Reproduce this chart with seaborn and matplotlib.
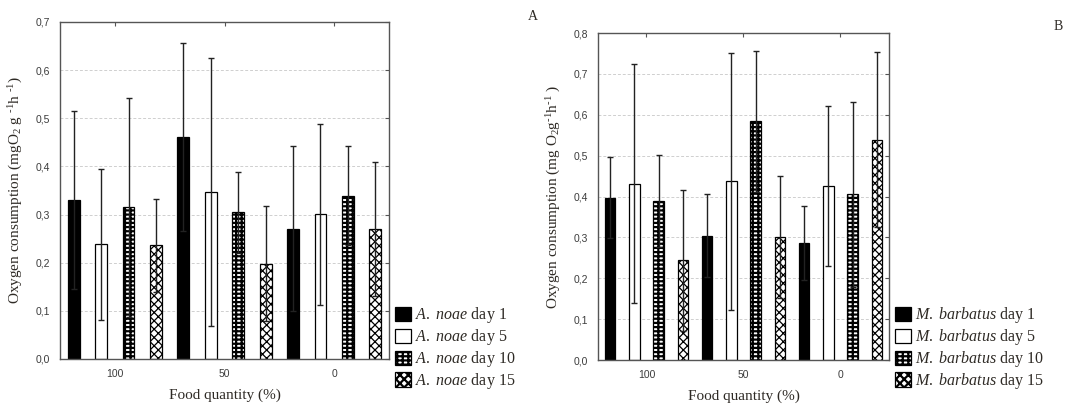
import numpy as np
import pandas as pd
import matplotlib
matplotlib.use("Agg")
import matplotlib.pyplot as plt
from matplotlib.patches import Patch
from matplotlib.ticker import FuncFormatter, MultipleLocator
import seaborn as sns

# ---- data -------------------------------------------------------------
food = ["100", "50", "0"]
days = ["day 1", "day 5", "day 10", "day 15"]

# Arca noae: mean oxygen consumption and SD per food quantity (100, 50, 0 %)
noae_day1 = [0.330, 0.461, 0.271]
noae_day5 = [0.238, 0.347, 0.301]
noae_day10 = [0.315, 0.305, 0.339]
noae_day15 = [0.236, 0.198, 0.270]
noae_sd_day1 = [0.185, 0.195, 0.171]
noae_sd_day5 = [0.157, 0.278, 0.188]
noae_sd_day10 = [0.228, 0.084, 0.103]
noae_sd_day15 = [0.097, 0.119, 0.139]

# Modiolus barbatus
barb_day1 = [0.397, 0.304, 0.286]
barb_day5 = [0.431, 0.437, 0.426]
barb_day10 = [0.389, 0.584, 0.405]
barb_day15 = [0.244, 0.300, 0.539]
barb_sd_day1 = [0.099, 0.102, 0.090]
barb_sd_day5 = [0.292, 0.314, 0.196]
barb_sd_day10 = [0.113, 0.173, 0.227]
barb_sd_day15 = [0.173, 0.149, 0.214]

# ---- style ------------------------------------------------------------
sns.set_style("white")
plt.rcParams["font.family"] = ["Liberation Serif", "DejaVu Serif"]
plt.rcParams["mathtext.fontset"] = "custom"
plt.rcParams["mathtext.rm"] = "Liberation Serif"
plt.rcParams["mathtext.it"] = "Liberation Serif:italic"
plt.rcParams["mathtext.bf"] = "Liberation Serif:bold"
plt.rcParams["hatch.linewidth"] = 1.6

TEXT = "#2e2a25"
AXC = "#555555"

# fill, hatch and hatch line width for day 1, 5, 10, 15
bar_styles = [
    dict(facecolor="black", hatch=None, hlw=None),
    dict(facecolor="white", hatch=None, hlw=None),
    dict(facecolor="white", hatch="+++-", hlw=1.6),
    dict(facecolor="white", hatch="xxxx", hlw=0.9),
]


def style_patch(p, st):
    p.set_facecolor(st["facecolor"])
    p.set_edgecolor("black")
    if st["hatch"]:
        p.set_hatch(st["hatch"])
        if hasattr(p, "set_hatch_linewidth"):
            p.set_hatch_linewidth(st["hlw"])


def long_table(means, sds):
    rows = []
    for day, m, s in zip(days, means, sds):
        for f, mv, sv in zip(food, m, s):
            rows.append({"food": f, "day": day, "mean": mv, "sd": sv})
    return pd.DataFrame(rows)


def draw_panel(ax, df, ymax, ylabel):
    sns.barplot(data=df, x="food", y="mean", hue="day", order=food,
                hue_order=days, width=1.0, gap=0.57, dodge=True,
                errorbar=None, legend=False, ax=ax,
                edgecolor="black", linewidth=0.9)
    bar_containers = list(ax.containers)
    for i, cont in enumerate(bar_containers):
        st = bar_styles[i]
        sd_lookup = df[df["day"] == days[i]].set_index("food")["sd"]
        xs, ys, es = [], [], []
        for p in cont.patches:
            style_patch(p, st)
            xc = p.get_x() + p.get_width() / 2
            g = int(round(xc))
            xs.append(xc)
            ys.append(p.get_height())
            es.append(sd_lookup[food[g]])
        ax.errorbar(xs, ys, yerr=es, fmt="none", ecolor="#222222",
                    elinewidth=1.0, capsize=2.5, capthick=1.0, zorder=5)

    ax.set_xlim(-0.5, 2.5)
    ax.set_ylim(0, ymax)
    ax.yaxis.set_major_locator(MultipleLocator(0.1))
    ax.yaxis.set_major_formatter(
        FuncFormatter(lambda v, _: f"{v:.1f}".replace(".", ",")))
    ax.yaxis.grid(True, linestyle=(0, (3, 2)), color="#cfcfcf", lw=0.7)
    ax.set_axisbelow(True)
    for sp in ax.spines.values():
        sp.set_visible(True)
        sp.set_color(AXC)
        sp.set_linewidth(1.0)
    ax.tick_params(direction="in", length=3, width=0.8, color=AXC,
                   top=True, right=True, labelsize=7.5, labelcolor="#3c3c3c",
                   pad=7)
    for lab in ax.get_xticklabels() + ax.get_yticklabels():
        lab.set_family("Liberation Sans")
    ax.set_xlabel("Food quantity (%)", fontsize=11, color=TEXT, labelpad=7)
    ax.set_ylabel(ylabel, fontsize=11, color=TEXT, labelpad=8)


fig = plt.figure(figsize=(10.65, 4.04), dpi=100)
axA = fig.add_axes([0.0563, 0.1114, 0.3090, 0.8342])
axB = fig.add_axes([0.5615, 0.1089, 0.2732, 0.8094])

dfA = long_table([noae_day1, noae_day5, noae_day10, noae_day15],
                 [noae_sd_day1, noae_sd_day5, noae_sd_day10, noae_sd_day15])
dfB = long_table([barb_day1, barb_day5, barb_day10, barb_day15],
                 [barb_sd_day1, barb_sd_day5, barb_sd_day10, barb_sd_day15])

draw_panel(axA, dfA, 0.7,
           "Oxygen consumption (mgO$_2$ g $^{\u2010 1}$h $^{\u20101}$)")
draw_panel(axB, dfB, 0.8,
           "Oxygen consumption (mg O$_2$g$^{\u20101}$h$^{\u20101}$ )")


def legend_for(species, anchor):
    handles = []
    for st, d in zip(bar_styles, days):
        h = Patch(facecolor=st["facecolor"], edgecolor="black",
                  hatch=st["hatch"], linewidth=0.9,
                  label=r"$\mathit{" + species + "}$ " + d)
        if st["hatch"] and hasattr(h, "set_hatch_linewidth"):
            h.set_hatch_linewidth(st["hlw"])
        handles.append(h)
    fig.legend(handles=handles, loc="lower left", bbox_to_anchor=anchor,
               frameon=False, fontsize=11.5, handlelength=1.0,
               handleheight=1.0, handletextpad=0.25, labelspacing=0.12,
               borderpad=0, borderaxespad=0, labelcolor=TEXT)


legend_for(r"A.\ noae", (0.371, 0.032))
legend_for(r"M.\ barbatus", (0.840, 0.032))

fig.text(533 / 1065, 1 - 16 / 404, "A", fontsize=10, color=TEXT,
         ha="center", va="center")
fig.text(1058 / 1065, 1 - 27 / 404, "B", fontsize=10, color=TEXT,
         ha="center", va="center")

fig.savefig("out.png", dpi=100)
